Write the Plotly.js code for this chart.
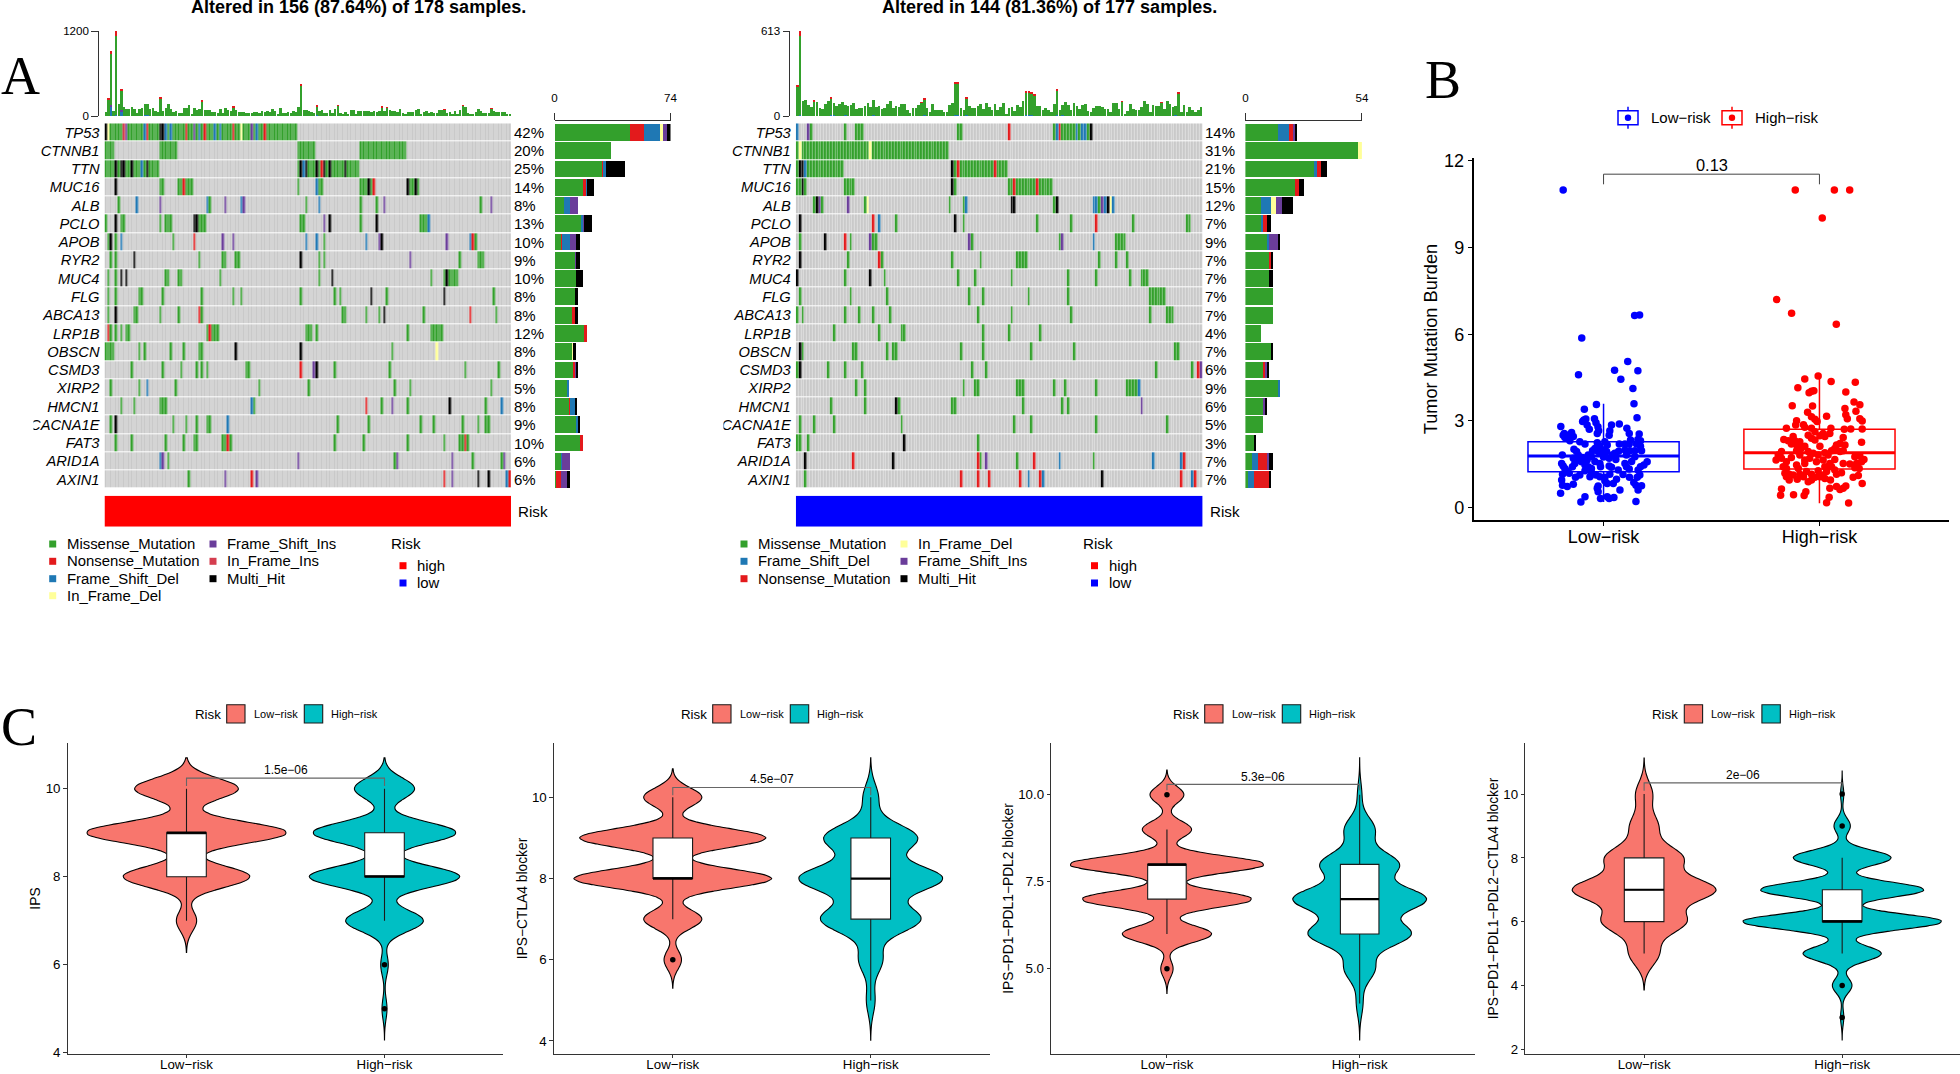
<!DOCTYPE html>
<html><head><meta charset="utf-8">
<script src="https://cdn.plot.ly/plotly-3.0.1.min.js"></script>
<style>html,body{margin:0;padding:0;background:#fff}#g{width:1960px;height:1074px}</style>
</head><body><div id="g"></div>
<script>
const genes=["TP53","CTNNB1","TTN","MUC16","ALB","PCLO","APOB","RYR2","MUC4","FLG","ABCA13","LRP1B","OBSCN","CSMD3","XIRP2","HMCN1","CACNA1E","FAT3","ARID1A","AXIN1"];
const pctL=[42,20,25,14,8,13,10,9,10,8,8,12,8,8,5,8,9,10,6,6];
const pctR=[14,31,21,15,12,7,9,7,7,7,7,4,7,6,9,6,5,3,7,7];
const nL=156, nR=144;
const typeColors={G:"#33A02C",R:"#E31A1C",B:"#1F78B4",Y:"#FFFF99",P:"#6A3D9A",J:"#D53E4F",K:"#000000"};
const typeNames={G:"Missense_Mutation",R:"Nonsense_Mutation",B:"Frame_Shift_Del",Y:"In_Frame_Del",P:"Frame_Shift_Ins",J:"In_Frame_Ins",K:"Multi_Hit"};

// oncoplot cells: [sample,type] or [from,to,type]; later entries overwrite earlier ones
const L_TP53=[[0,73,"G"],[0,"K"],[1,"Y"],[7,"J"],[8,"P"],[15,"B"],[16,"R"],[21,22,"K"],[23,"B"],[25,"B"],[31,"R"],[34,"P"],[36,"B"],[38,"R"],[42,"B"],[44,"B"],[49,"R"],[52,"Y"],[56,"P"],[58,"B"],[61,"R"]];
const L_CTNNB1=[[0,3,"G"],[21,27,"G"],[74,80,"G"],[98,115,"G"]];
const L_TTN=[[0,20,"G"],[4,"K"],[6,7,"K"],[10,"K"],[14,"B"],[16,"K"],[74,97,"G"],[75,"K"],[76,"B"],[77,"K"],[81,"K"],[83,"R"],[84,"K"],[86,"K"],[92,"K"]];
const L_MUC16=[[4,"K"],[21,22,"G"],[28,33,"G"],[30,"R"],[74,"G"],[81,"B"],[82,83,"G"],[98,103,"G"],[101,"K"],[103,"R"],[116,"K"],[117,120,"G"],[119,"K"]];
const L_ALB=[[5,"G"],[12,"B"],[21,"P"],[39,"B"],[40,"G"],[46,"P"],[52,"B"],[53,"P"],[77,"G"],[82,"B"],[98,"G"],[104,"G"],[107,"P"],[144,"G"],[148,"P"]];
const L_PCLO=[[0,"G"],[4,"K"],[6,7,"G"],[21,"G"],[23,25,"G"],[34,35,"K"],[36,38,"G"],[75,76,"G"],[84,"P"],[86,"K"],[98,"G"],[104,"K"],[121,123,"G"],[124,"B"]];
const L_APOB=[[1,"G"],[2,"K"],[4,"G"],[6,"B"],[26,"G"],[34,"R"],[45,"P"],[49,"P"],[77,"B"],[81,"B"],[84,"G"],[100,"B"],[105,"P"],[106,"K"],[131,"P"],[140,"B"],[141,"R"],[142,"G"]];
const L_RYR2=[[2,"G"],[4,"G"],[11,"K"],[36,"G"],[45,46,"G"],[50,51,"G"],[75,"K"],[82,"G"],[84,"G"],[117,"P"],[136,"G"],[143,145,"G"]];
const L_MUC4=[[1,"G"],[4,"G"],[6,"K"],[8,"K"],[23,24,"G"],[28,29,"G"],[44,"G"],[82,"G"],[87,"K"],[125,"G"],[130,"G"],[131,"K"],[132,135,"G"]];
const L_FLG=[[1,"G"],[4,"G"],[13,14,"G"],[22,"G"],[37,"G"],[49,"G"],[52,"G"],[75,"G"],[88,"G"],[90,"G"],[102,"K"],[108,"G"],[130,"K"],[149,"G"]];
const L_ABCA13=[[1,"G"],[4,"K"],[11,12,"G"],[21,"G"],[28,"G"],[36,"R"],[37,"G"],[91,92,"G"],[100,"G"],[105,"G"],[107,"K"],[122,"G"],[140,"R"],[150,"G"]];
const L_LRP1B=[[1,"R"],[2,"G"],[4,"G"],[6,"G"],[8,9,"G"],[39,"G"],[40,"R"],[41,43,"G"],[77,79,"G"],[81,"G"],[116,"G"],[125,129,"G"]];
const L_OBSCN=[[0,3,"G"],[13,"G"],[15,"G"],[25,"G"],[30,"G"],[36,37,"G"],[50,"K"],[75,"K"],[110,"G"],[127,"Y"]];
const L_CSMD3=[[10,"G"],[22,"G"],[29,"G"],[35,"G"],[37,"G"],[39,"G"],[54,55,"G"],[75,"R"],[80,"P"],[81,"K"],[88,"G"],[109,"G"],[138,"G"],[151,"G"]];
const L_XIRP2=[[2,"G"],[13,"G"],[16,"B"],[27,"G"],[59,"G"],[78,"G"],[111,"G"],[117,"G"],[148,"G"]];
const L_HMCN1=[[6,"G"],[11,"G"],[21,23,"G"],[56,"B"],[57,"G"],[100,"R"],[106,"G"],[110,"P"],[116,"G"],[132,"K"],[146,"G"],[152,"B"]];
const L_CACNA1E=[[2,"G"],[4,"K"],[26,"G"],[31,"G"],[35,"G"],[39,40,"G"],[47,"B"],[89,"G"],[101,"G"],[121,"G"],[126,"G"],[137,"G"],[143,"G"],[146,147,"G"]];
const L_FAT3=[[4,"G"],[10,"G"],[23,"G"],[30,"G"],[34,35,"G"],[45,46,"G"],[47,"R"],[48,"G"],[88,"G"],[99,"G"],[116,"G"],[130,"G"],[136,137,"G"],[138,"R"],[139,"G"]];
const L_ARID1A=[[21,"B"],[22,"P"],[24,"G"],[74,"P"],[111,"G"],[112,"P"],[133,"P"],[141,"G"],[152,"G"],[153,"P"]];
const L_AXIN1=[[32,"G"],[46,"P"],[56,"R"],[58,"P"],[130,"R"],[133,"P"],[143,"K"],[147,"K"],[154,"B"],[155,"R"]];
const rowsL=[L_TP53,L_CTNNB1,L_TTN,L_MUC16,L_ALB,L_PCLO,L_APOB,L_RYR2,L_MUC4,L_FLG,L_ABCA13,L_LRP1B,L_OBSCN,L_CSMD3,L_XIRP2,L_HMCN1,L_CACNA1E,L_FAT3,L_ARID1A,L_AXIN1];

const R_TP53=[[0,"B"],[4,"P"],[5,"G"],[17,"G"],[21,23,"G"],[57,58,"G"],[75,"R"],[91,"G"],[92,"B"],[93,"R"],[94,98,"G"],[99,"B"],[100,"G"],[101,102,"B"],[103,"G"],[104,"K"]];
const R_CTNNB1=[[0,53,"G"],[1,"Y"],[26,"Y"]];
const R_TTN=[[0,"G"],[1,2,"K"],[3,"B"],[4,16,"G"],[55,"K"],[56,"G"],[57,"R"],[58,74,"G"],[70,"R"]];
const R_MUC16=[[0,"G"],[1,"G"],[2,"K"],[3,"G"],[17,20,"G"],[55,"K"],[56,"G"],[75,84,"G"],[77,"R"],[85,"R"],[86,90,"G"]];
const R_ALB=[[6,"G"],[7,"K"],[8,"P"],[9,"G"],[18,"P"],[24,"G"],[25,"Y"],[54,"G"],[59,"G"],[60,"B"],[76,77,"K"],[91,"G"],[92,"K"],[105,106,"B"],[107,"G"],[108,"P"],[109,"B"],[110,"K"],[111,"Y"],[112,"B"]];
const R_PCLO=[[1,"K"],[27,"R"],[29,"B"],[35,"G"],[56,"K"],[59,"G"],[85,"G"],[97,"G"],[106,"R"],[119,"G"],[138,139,"G"]];
const R_APOB=[[1,"G"],[10,"K"],[17,"R"],[19,"G"],[26,"P"],[27,28,"G"],[61,"P"],[62,"G"],[93,"G"],[94,"P"],[105,"B"],[113,116,"G"]];
const R_RYR2=[[1,"K"],[18,"G"],[29,"R"],[30,"G"],[55,"G"],[65,"G"],[78,81,"G"],[107,"G"],[113,"G"],[117,"G"]];
const R_MUC4=[[0,"K"],[17,"G"],[26,"K"],[31,"G"],[57,"G"],[63,"G"],[76,"G"],[96,"G"],[106,"G"],[118,"G"],[122,124,"G"]];
const R_FLG=[[1,"G"],[19,"G"],[32,"G"],[61,"G"],[66,"G"],[82,"G"],[96,"G"],[125,130,"G"]];
const R_ABCA13=[[0,"G"],[2,"G"],[17,"G"],[22,"G"],[27,"G"],[33,"G"],[64,"G"],[76,"G"],[97,"G"],[125,"G"],[131,133,"G"]];
const R_LRP1B=[[13,"G"],[29,"G"],[37,38,"G"],[66,"G"],[75,"G"],[86,"G"]];
const R_OBSCN=[[1,"K"],[2,"G"],[20,21,"G"],[32,"G"],[34,35,"G"],[58,"G"],[66,"G"],[83,"G"],[98,"G"],[134,135,"G"]];
const R_CSMD3=[[0,"G"],[1,"K"],[11,"G"],[17,"G"],[23,"G"],[62,"G"],[67,"G"],[127,"G"],[140,"G"],[142,"R"],[143,"P"]];
const R_XIRP2=[[21,"G"],[24,"G"],[59,"G"],[63,64,"G"],[78,80,"G"],[91,"G"],[95,"G"],[106,"G"],[117,120,"G"],[121,"B"]];
const R_HMCN1=[[12,"G"],[24,"G"],[35,"K"],[36,"G"],[55,56,"G"],[80,"G"],[94,"G"],[96,"G"],[122,"P"]];
const R_CACNA1E=[[1,"G"],[6,"G"],[13,"G"],[37,"G"],[77,"G"],[83,"G"],[106,"G"],[131,"G"]];
const R_FAT3=[[0,1,"G"],[4,"G"],[38,"K"],[64,"G"]];
const R_ARID1A=[[3,"K"],[20,"R"],[34,"K"],[64,"R"],[65,"G"],[67,"P"],[78,"G"],[84,"R"],[93,"B"],[105,"G"],[126,"B"],[136,"B"],[137,"R"]];
const R_AXIN1=[[3,"G"],[58,"R"],[64,"R"],[68,"R"],[79,"R"],[82,"B"],[86,"R"],[87,"B"],[108,"K"],[136,"R"],[140,"B"],[141,"R"]];
const rowsR=[R_TP53,R_CTNNB1,R_TTN,R_MUC16,R_ALB,R_PCLO,R_APOB,R_RYR2,R_MUC4,R_FLG,R_ABCA13,R_LRP1B,R_OBSCN,R_CSMD3,R_XIRP2,R_HMCN1,R_CACNA1E,R_FAT3,R_ARID1A,R_AXIN1];

// top bars: mutations per sample
const topL_total=[56,250,920,70,1200,165,375,130,95,105,130,105,47,100,118,165,165,95,108,70,52,268,70,108,170,95,52,70,42,47,108,108,150,33,108,85,99,230,85,85,85,56,52,47,103,42,113,85,70,132,85,56,52,52,42,42,47,56,52,47,66,61,75,52,94,66,33,108,47,47,56,42,70,56,122,450,90,90,70,52,47,150,70,85,47,42,85,40,94,150,42,33,52,33,80,80,33,75,66,75,66,70,56,66,61,70,132,66,122,80,66,70,52,99,42,15,56,56,56,85,94,33,52,66,42,56,47,47,85,89,94,47,52,28,66,23,85,150,127,47,23,33,52,103,66,47,42,42,108,70,61,52,61,56,33,33];
const topL_red=[[1,20],[2,45],[4,70],[6,15],[21,20],[37,25],[49,8],[75,25],[81,12],[89,6],[106,8],[108,8],[137,8],[148,6],[130,6]];
const topL_blue=[[2,130],[4,12],[6,65],[15,10],[16,10],[75,6],[81,8]];
const topL_purple=[[2,30],[6,15]];
const topR_total=[218,613,108,113,79,65,113,103,55,50,84,108,134,91,72,84,98,79,72,79,91,50,58,58,70,96,67,113,62,74,53,55,89,106,55,72,65,84,84,43,22,55,55,79,101,127,60,31,86,43,41,41,31,26,82,94,247,247,55,41,134,74,60,60,72,84,50,96,62,43,84,46,67,96,12,58,67,36,79,67,110,178,178,168,154,72,72,41,55,41,26,86,190,43,79,101,79,43,91,70,50,82,84,36,29,58,74,74,67,48,48,31,96,96,48,106,12,36,84,50,41,46,67,106,86,26,77,74,72,98,50,106,86,62,72,170,26,79,31,62,46,26,43,67];
const topR_red=[[0,8],[1,35],[6,10],[12,5],[45,8],[44,4],[56,15],[57,15],[60,5],[81,8],[82,8],[83,8],[84,8],[92,8],[115,5],[129,4],[135,5]];
const topR_blue=[[1,8],[12,7],[13,7],[17,7],[27,7],[45,7],[56,7],[57,7],[60,7],[81,7],[82,7],[83,7],[92,8],[94,6],[134,7]];

// side bars: samples per gene and type
const sideL_G=[48,36,30,18,6,17,4,13,14,13,11,19,11,12,8,9,14,16,4,1];
const sideL_R=[9,0,1,2,0,0,1,0,0,0,2,2,0,1,0,1,0,2,0,3];
const sideL_B=[10,0,2,1,4,1,5,0,0,0,0,0,0,0,1,3,1,0,1,0];
const sideL_Y=[2,0,0,0,0,0,0,0,0,0,0,0,1,0,0,0,0,0,0,0];
const sideL_P=[3,0,0,0,5,1,4,1,0,0,0,0,0,1,0,0,0,0,5,4];
const sideL_K=[2,0,12,4,0,5,2,2,4,2,2,0,2,1,0,1,1,0,0,2];
const sideR_G=[15,52,32,23,7,7,10,11,11,13,13,7,12,8,15,8,8,4,3,1];
const sideR_B=[5,0,1,0,5,1,1,0,0,0,0,0,0,0,1,0,0,0,3,3];
const sideR_R=[2,0,2,2,0,2,0,1,0,0,0,0,0,1,0,0,0,0,4,7];
const sideR_Y=[0,2,0,0,2,0,0,0,0,0,0,0,0,0,0,0,0,0,0,0];
const sideR_P=[1,0,0,0,3,0,4,0,0,0,0,0,0,1,0,1,0,0,1,0];
const sideR_K=[1,0,3,2,5,2,1,1,2,0,0,0,1,1,0,1,0,1,2,1];

// panel B: [jitter offset, TMB]
const tmbLow=[[-.187,10.99],[.144,6.65],[.167,6.67],[-.101,5.87],[.112,5.06],[-.116,4.6],[.051,4.76],[.159,4.74],[.08,4.44],[.136,4.12],[.141,3.6],[-.033,3.57],[-.089,3.41],[.155,3.11],[-.198,2.81],[-.187,2.51],[-.179,2.43],[-.168,2.51],[-.148,2.6],[-.159,2.4],[-.14,2.46],[-.182,2.57],[-.156,2.32],[-.091,3.03],[-.082,3.07],[-.097,2.98],[-.076,2.86],[-.066,2.71],[-.042,3.08],[-.035,2.94],[-.026,2.8],[-.023,2.66],[.037,2.86],[.073,2.9],[.029,2.66],[.026,2.51],[.108,2.75],[.119,2.57],[.165,2.55],[.159,2.36],[.171,2.32],[.153,2.2],[.171,2.13],[.145,1.97],[.176,1.97],[.125,2.34],[-.086,2.2],[-.11,2.28],[-.137,2.02],[-.125,1.94],[-.191,1.82],[-.029,2.25],[.006,2.28],[.017,2.17],[-.017,2.13],[-.04,2.05],[0,2],[-.025,1.94],[.014,1.94],[-.051,1.97],[-.009,1.88],[.052,1.88],[.073,2.2],[.099,2.2],[.119,2.2],[.099,2],[.122,1.97],[.145,1.76],[.106,1.82],[.057,1.67],[.026,1.71],[-.14,1.71],[-.117,1.82],[-.097,1.74],[-.071,1.82],[-.056,1.76],[-.076,1.65],[-.102,1.59],[-.133,1.53],[-.144,1.42],[-.194,1.53],[-.187,1.44],[-.179,1.36],[-.19,1.16],[-.159,1.19],[-.171,1.28],[-.071,1.42],[-.056,1.36],[-.086,1.28],[-.11,1.13],[-.056,1.21],[-.035,1.13],[-.017,1.07],[.006,1.05],[.029,1.16],[-.014,1.42],[.026,1.44],[.037,1.4],[.068,1.3],[.106,1.42],[.119,1.34],[.099,1.53],[.202,1.59],[.187,1.48],[.171,1.42],[.16,1.3],[.168,1.13],[.156,1.05],[-.017,1.53],[-.086,1.48],[-.117,1.65],[-.194,.96],[-.19,.78],[-.168,.73],[-.14,.81],[-.199,.5],[-.086,.38],[-.105,.2],[-.025,.75],[-.025,.55],[-.014,.32],[.017,.38],[.026,.32],[.048,.35],[.076,.61],[.06,.98],[.045,.84],[.017,.84],[.006,.93],[.14,.87],[.15,.78],[.176,.76],[.16,.61],[.15,.21],[-.063,1.07],[-.029,.67],[-.029,2.57],[.04,1.82],[.07,1.95],[.13,1.6],[-.04,1.6],[0,1.75],[.09,1.15],[.12,1.05],[-.13,1.05]];
const tmbHigh=[[-.112,10.99],[.069,10.99],[.14,10.99],[.013,10.02],[-.198,7.2],[-.129,6.73],[.078,6.35],[-.006,4.56],[-.068,4.45],[.054,4.37],[.166,4.34],[-.1,4.15],[-.026,4.05],[-.048,3.98],[-.037,4.03],[.122,4],[.16,3.66],[.187,3.56],[-.126,3.53],[-.032,3.52],[.118,3.43],[.169,3.34],[-.055,3.3],[.122,3.22],[-.037,3.15],[.033,3.16],[.129,3.08],[-.021,3.06],[.187,3.08],[.198,3],[-.106,3.01],[-.011,2.98],[-.11,2.86],[-.074,2.87],[-.037,2.75],[-.153,2.75],[.053,2.75],[.115,2.71],[.145,2.72],[.198,2.72],[-.021,2.63],[.017,2.57],[.002,2.49],[.048,2.57],[-.068,2.78],[-.052,2.51],[.025,2.46],[-.037,2.4],[-.021,2.34],[.11,2.43],[.195,2.26],[-.122,2.46],[-.165,2.36],[-.145,2.32],[-.114,2.32],[-.091,2.28],[-.106,2.17],[-.13,2.2],[-.068,2.13],[-.086,2.05],[-.106,1.97],[.095,2.22],[.079,2.17],[.118,2.17],[.071,2.05],[.056,1.97],[.002,2.13],[.11,1.97],[.095,1.94],[-.052,1.94],[-.029,1.88],[-.006,1.82],[.025,1.9],[.04,1.82],[-.176,1.94],[-.191,1.82],[-.201,1.65],[-.176,1.71],[-.153,1.59],[-.13,1.74],[-.091,1.82],[-.068,1.65],[-.045,1.71],[-.068,1.53],[-.014,1.59],[.017,1.65],[.048,1.53],[.071,1.67],[.11,1.53],[.141,1.51],[.164,1.76],[.187,1.79],[.206,1.67],[.172,1.53],[.195,1.59],[.164,1.38],[.184,1.36],[-.168,1.42],[-.153,1.36],[-.106,1.48],[-.098,1.36],[-.16,1.19],[-.14,1.16],[-.122,1.13],[-.091,1.16],[-.06,1.25],[-.037,1.16],[-.006,1.28],[.025,1.42],[.01,1.13],[.056,1.42],[.071,1.3],[.033,1.25],[.079,1.16],[.102,1.21],[-.153,1.07],[-.14,.96],[-.074,1.07],[-.037,.96],[-.021,1.05],[.002,1.07],[.025,1.01],[.051,.96],[.156,1.05],[.18,1.11],[.198,.84],[-.103,.98],[-.052,.9],[-.176,.65],[-.18,.43],[-.12,.45],[-.063,.55],[-.071,.42],[.048,.67],[.079,.73],[.095,.63],[.11,.67],[.122,.75],[.045,.36],[.033,.17],[.135,.16]];
const boxLow={q1:1.245,med:1.79,q3:2.28,lo:0.2,hi:3.6};
const boxHigh={q1:1.34,med:1.9,q3:2.71,lo:0.15,hi:4.47};

// panel C: integer score counts behind each violin
const c1LowVals=[7,8,9,10],       c1LowCounts=[8,50,79,41];
const c1HighVals=[5,6,7,8,9,10],  c1HighCounts=[2,3,31,60,57,24];
const c2LowVals=[6,7,8,9,10],     c2LowCounts=[6,20,68,64,20];
const c2HighVals=[5,6,7,8,9,10],  c2HighCounts=[4,11,46,66,43,7];
const c3LowVals=[5,6,7,8,9,10],   c3LowCounts=[4,29,55,63,16,11];
const c3HighVals=[4,5,6,7,8,9,10],c3HighCounts=[3,14,47,61,36,14,2];
const c4LowVals=[5,6,7,8,9,10],   c4LowCounts=[14,39,67,36,13,8];
const c4HighVals=[3,4,5,6,7,8,9,10],c4HighCounts=[1,6,24,61,50,30,5,1];

const c1Box=[{q1:8,med:9,q3:9,lo:7,hi:10},{q1:8,med:8,q3:9,lo:7,hi:10}];
const c2Box=[{q1:8,med:8,q3:9,lo:7,hi:10},{q1:7,med:8,q3:9,lo:5,hi:10}];
const c3Box=[{q1:7,med:8,q3:8,lo:6,hi:9},{q1:6,med:7,q3:8,lo:4,hi:10}];
const c4Box=[{q1:6,med:7,q3:8,lo:5,hi:10},{q1:6,med:6,q3:7,lo:5,hi:8}];
const c1Out=[[],[6,5]], c2Out=[[6],[]], c3Out=[[10,5],[]], c4Out=[[],[10,9,4,3]];
const riskLabels=["Low\u2212risk","High\u2212risk"];

const W=1960,H=1074,FONT="Liberation Sans, Arial, sans-serif";
const px=x=>x/W, py=y=>1-y/H;
const data=[],shapes=[],annotations=[],layout={};
let axN=0;
function axes(xb,yb,xo,yo){axN++;const s=axN===1?"":axN;
  layout["xaxis"+s]=Object.assign({domain:[px(xb[0]),px(xb[1])],anchor:"y"+s,showgrid:false,zeroline:false,visible:false},xo||{});
  layout["yaxis"+s]=Object.assign({domain:[py(yb[1]),py(yb[0])],anchor:"x"+s,showgrid:false,zeroline:false,visible:false},yo||{});
  return {x:"x"+s,y:"y"+s};}
function ann(x,y,text,size,o){annotations.push(Object.assign({x:px(x),y:py(y),xref:"paper",yref:"paper",text,showarrow:false,borderpad:0,xanchor:"left",yanchor:"middle",font:{family:FONT,size,color:"#000"}},o||{}));}
function rect(x0,y0,x1,y1,fill,line,lw,layer){shapes.push({type:"rect",xref:"paper",yref:"paper",x0:px(x0),x1:px(x1),y0:py(y0),y1:py(y1),fillcolor:fill,line:{color:line||fill,width:line?(lw||1):0},layer:layer||"above"});}
function seg(x0,y0,x1,y1,c,w){shapes.push({type:"line",xref:"paper",yref:"paper",x0:px(x0),x1:px(x1),y0:py(y0),y1:py(y1),line:{color:c,width:w||1}});}

const order=["G","R","B","Y","P","J","K"];
const cs=[];const grey="#C9C9C9";
["#000",...order].forEach((k,i)=>{const c=i===0?grey:typeColors[k];cs.push([i/8,c],[(i+1)/8,c]);});
function matrix(rows,n){return rows.map(r=>{const a=new Array(n).fill(0);r.forEach(e=>{const from=e[0],to=e.length===3?e[1]:e[0],t=e[e.length-1];for(let i=from;i<=to;i++)a[i]=order.indexOf(t)+1;});return a;}).map(a=>a.map(v=>v+0.5));}
function sparse(list,n){const a=new Array(n).fill(0);list.forEach(([i,v])=>a[i]=v);return a;}

function oncoplot(o){
  const hx=o.hx, hy=[123.3,488.7], n=o.n, axisFont={family:FONT,size:11.6,color:"#000"};
  // matrix
  const a=axes(hx,hy,{range:[-.5,n-.5]},{visible:true,range:[19.5,-.5],tickmode:"array",tickvals:genes.map((_,i)=>i),ticktext:genes,ticks:"",showline:false,ticklabelstandoff:4,tickfont:{family:FONT,size:14.7,style:"italic",color:"#000"}});
  data.push({type:"heatmap",xaxis:a.x,yaxis:a.y,z:matrix(o.rows,n),zmin:0,zmax:8,colorscale:cs,showscale:false,xgap:0.4,ygap:1,hoverinfo:"skip"});
  o.pct.forEach((p,i)=>annotations.push({xref:"paper",yref:a.y,x:px(hx[1]+1.5),y:i,text:p+"%",showarrow:false,xanchor:"left",yanchor:"middle",borderpad:0,font:{family:FONT,size:15,color:"#000"}}));
  // top bars
  const b=axes(hx,[31,116],{range:[-.5,n-.5]},{visible:true,range:[0,o.topMax],anchor:"free",position:px(hx[0]-6.7),tickmode:"array",tickvals:[0,o.topMax],ticks:"outside",ticklen:6.5,tickcolor:"#333",showline:true,linecolor:"#333",linewidth:1,tickfont:axisFont});
  const blue=sparse(o.topBlue,n),purple=sparse(o.topPurple,n),red=sparse(o.topRed,n);
  const green=o.topTotal.map((t,i)=>t-blue[i]-purple[i]-red[i]);
  [[blue,"B"],[purple,"P"],[green,"G"],[red,"R"]].forEach(([v,k])=>data.push({type:"bar",xaxis:b.x,yaxis:b.y,x:v.map((_,i)=>i),y:v,marker:{color:typeColors[k],line:{width:0}},hoverinfo:"skip"}));
  // side bars
  const c=axes(o.sx,hy,{visible:true,range:[0,o.sideMax],side:"top",anchor:"free",position:py(119.5),tickmode:"array",tickvals:[0,o.sideMax],ticks:"outside",ticklen:7,tickcolor:"#333",showline:true,linecolor:"#333",linewidth:1,ticklabelstandoff:6,tickfont:axisFont},{range:[19.5,-.5]});
  o.side.forEach(([v,k])=>data.push({type:"bar",orientation:"h",xaxis:c.x,yaxis:c.y,x:v,y:genes.map((_,i)=>i),marker:{color:typeColors[k],line:{width:0}},hoverinfo:"skip"}));
  // risk strip
  const d=axes(hx,[495.7,526.7],{range:[-.5,n-.5]},{range:[-.5,.5]});
  data.push({type:"heatmap",xaxis:d.x,yaxis:d.y,z:[new Array(n).fill(1)],zmin:0,zmax:1,colorscale:[[0,o.risk],[1,o.risk]],showscale:false,hoverinfo:"skip"});
  ann(hx[1]+6,511,"Risk",15.2);
  ann(o.titleX,7.5,"<b>"+o.title+"</b>",18,{xanchor:"center"});
  // legend
  const ly=[544,561.3,578.7,595.7];
  o.leg1.forEach((k,i)=>{rect(o.lx1-3.5,ly[i]-3.5,o.lx1+3.5,ly[i]+3.5,typeColors[k]);ann(o.lx1+13.2,ly[i],typeNames[k],14.9);});
  o.leg2.forEach((k,i)=>{rect(o.lx2-3.5,ly[i]-3.5,o.lx2+3.5,ly[i]+3.5,typeColors[k]);ann(o.lx2+13,ly[i],typeNames[k],14.9);});
  ann(o.lx3-12.7,543,"Risk",15.2);
  rect(o.lx3-3.5,562.2,o.lx3+3.5,569.2,"#ff0000");ann(o.lx3+13,565.7,"high",14.9);
  rect(o.lx3-3.5,579.5,o.lx3+3.5,586.5,"#0000ff");ann(o.lx3+13,583,"low",14.9);
  // the clipped gene label
  rect(o.clip-40,415.6,o.clip,433.9,"#fff");
}
oncoplot({hx:[104.5,511],sx:[554.5,670.5],titleX:358.5,n:nL,rows:rowsL,pct:pctL,topTotal:topL_total,topBlue:topL_blue,topPurple:topL_purple,topRed:topL_red,topMax:1200,sideMax:74,
  side:[[sideL_G,"G"],[sideL_R,"R"],[sideL_B,"B"],[sideL_Y,"Y"],[sideL_P,"P"],[sideL_K,"K"]],risk:"#ff0000",title:"Altered in 156 (87.64%) of 178 samples.",
  leg1:["G","R","B","Y"],leg2:["P","J","K"],lx1:52.7,lx2:213,lx3:403,clip:33.5});
oncoplot({hx:[795.8,1202.5],sx:[1245.4,1361.9],titleX:1049,n:nR,rows:rowsR,pct:pctR,topTotal:topR_total,topBlue:topR_blue,topPurple:[],topRed:topR_red,topMax:613,sideMax:54,
  side:[[sideR_G,"G"],[sideR_B,"B"],[sideR_R,"R"],[sideR_Y,"Y"],[sideR_P,"P"],[sideR_K,"K"]],risk:"#0000ff",title:"Altered in 144 (81.36%) of 177 samples.",
  leg1:["G","B","R"],leg2:["Y","P","K"],lx1:744,lx2:904,lx3:1094.5,clip:723.5});

const serif={family:"Liberation Serif, serif",size:54,color:"#000"};
ann(0,76,"A",54,{font:serif});
ann(1424,80,"B",54,{font:serif});
ann(0,727,"C",54,{font:serif});

// panel B
(function(){
  const t17={family:FONT,size:18,color:"#000"};
  const a=axes([1474,1949],[158,520],
    {visible:true,range:[.4,2.6],tickmode:"array",tickvals:[1,2],ticktext:riskLabels,ticks:"outside",ticklen:4.5,tickcolor:"#000",showline:true,linecolor:"#000",linewidth:1.5,ticklabelstandoff:-5,tickfont:t17},
    {visible:true,range:[-.426,12.1],tickmode:"array",tickvals:[0,3,6,9,12],ticks:"outside",ticklen:4.5,tickcolor:"#000",showline:true,linecolor:"#000",linewidth:1.5,tickfont:t17,title:{text:"Tumor Mutation Burden",font:{family:FONT,size:18.2,color:"#000"},standoff:2}});
  [[boxLow,1,"#0000ff",tmbLow],[boxHigh,2,"#ff0000",tmbHigh]].forEach(([b,x,c,pts])=>{
    data.push({type:"box",xaxis:a.x,yaxis:a.y,x:[x],q1:[b.q1],median:[b.med],q3:[b.q3],lowerfence:[b.lo],upperfence:[b.hi],width:.7,whiskerwidth:0,boxpoints:false,fillcolor:"rgba(0,0,0,0)",line:{color:c,width:1.5},hoverinfo:"skip"});
    data.push({type:"scatter",mode:"lines",xaxis:a.x,yaxis:a.y,x:[x-.35,x+.35],y:[b.med,b.med],line:{color:c,width:3},hoverinfo:"skip"});
    data.push({type:"scatter",mode:"markers",xaxis:a.x,yaxis:a.y,x:pts.map(p=>x+p[0]),y:pts.map(p=>p[1]),marker:{color:c,size:7.5},hoverinfo:"skip"});
  });
  data.push({type:"scatter",mode:"lines",xaxis:a.x,yaxis:a.y,x:[1,1,2,2],y:[11.19,11.54,11.54,11.19],line:{color:"#444",width:1},hoverinfo:"skip"});
  ann(1711.6,165,"0.13",16.4,{xanchor:"center"});
  [[1628,"#0000ff",riskLabels[0],1650],[1732,"#ff0000",riskLabels[1],1754.3]].forEach(([cx,c,t,tx])=>{
    seg(cx,106.7,cx,128.7,c,1.5);rect(cx-10,110.7,cx+10,124.7,"#fff",c,1.5);
    shapes.push({type:"circle",xref:"paper",yref:"paper",x0:px(cx-3.2),x1:px(cx+3.2),y0:py(114.5),y1:py(120.9),fillcolor:c,line:{width:0},layer:"above"});
    ann(tx,118,t,15);
  });
})();

// panel C
function expand(vals,counts){const s=[];vals.forEach((v,i)=>{for(let k=0;k<counts[i];k++)s.push(v);});return s;}
function violins(o){
  const f={family:FONT,size:13.3,color:"#000"};
  const a=axes(o.xb,[743.3,1053.7],
    {visible:true,range:o.xr,tickmode:"array",tickvals:[1,2],ticktext:riskLabels,ticks:"outside",ticklen:3.5,tickcolor:"#333",showline:true,linecolor:"#333",linewidth:1.2,ticklabelstandoff:-5,tickfont:f},
    {visible:true,range:o.yr,tickmode:"array",tickvals:o.ticks,ticktext:o.tickText||o.ticks.map(String),ticks:"outside",ticklen:3.5,tickcolor:"#333",showline:true,linecolor:"#333",linewidth:1.2,tickfont:f,title:{text:o.title,font:{family:FONT,size:13.8,color:"#000"},standoff:o.standoff}});
  o.v.forEach((v,i)=>{
    const x=i+1,s=expand(v.vals,v.counts),c=i?"#00BFC4":"#F8766D",b=o.box[i];
    data.push({type:"violin",xaxis:a.x,yaxis:a.y,x0:x,y:s,bandwidth:v.bw,width:v.w,scalemode:"width",spanmode:"manual",span:v.span,points:false,box:{visible:false},meanline:{visible:false},fillcolor:c,line:{color:"#000",width:1.1},hoverinfo:"skip"});
    data.push({type:"box",xaxis:a.x,yaxis:a.y,x:[x],q1:[b.q1],median:[b.med],q3:[b.q3],lowerfence:[b.lo],upperfence:[b.hi],width:.2,whiskerwidth:0,boxpoints:false,fillcolor:"#fff",line:{color:"#1a1a1a",width:1.1},hoverinfo:"skip"});
    data.push({type:"scatter",mode:"lines",xaxis:a.x,yaxis:a.y,x:[x-.1,x+.1],y:[b.med,b.med],line:{color:"#000",width:2.2},hoverinfo:"skip"});
    if(o.out[i].length)data.push({type:"scatter",mode:"markers",xaxis:a.x,yaxis:a.y,x:o.out[i].map(()=>x),y:o.out[i],marker:{color:"#000",size:5.5},hoverinfo:"skip"});
  });
  data.push({type:"scatter",mode:"lines",xaxis:a.x,yaxis:a.y,x:[1,1,2,2],y:[o.br[0],o.br[1],o.br[1],o.br[0]],line:{color:"#666",width:1.1},hoverinfo:"skip"});
  annotations.push({xref:a.x,yref:"paper",x:1.5,y:py(o.labY),text:o.p,showarrow:false,xanchor:"center",yanchor:"middle",borderpad:0,font:{family:FONT,size:12,color:"#000"}});
  const L=o.leg;
  ann(L,714,"Risk",13.3);
  rect(L+33,704.7,L+51.3,723,"#F8766D","#1a1a1a",1.1);ann(L+59,714,riskLabels[0],11);
  rect(L+110.6,704.7,L+129,723,"#00BFC4","#1a1a1a",1.1);ann(L+136.6,714,riskLabels[1],11);
}
violins({xb:[67.7,503.3],xr:[.4,2.6],yr:[3.98,11.03],ticks:[4,6,8,10],title:"IPS",standoff:1,box:c1Box,out:c1Out,br:[10.06,10.24],labY:770,p:"1.5e\u221206",leg:193.7,
 v:[{vals:c1LowVals,counts:c1LowCounts,bw:.24,w:1.0,span:[6.28,10.7]},{vals:c1HighVals,counts:c1HighCounts,bw:.24,w:.76,span:[4.29,10.7]}]});
violins({xb:[554,989.5],xr:[.4,2.6],yr:[3.687,11.33],ticks:[4,6,8,10],title:"IPS\u2212CTLA4 blocker",standoff:1,box:c2Box,out:c2Out,br:[10.05,10.24],labY:779.3,p:"4.5e\u221207",leg:679.7,
 v:[{vals:c2LowVals,counts:c2LowCounts,bw:.233,w:1.0,span:[5.3,10.7]},{vals:c2HighVals,counts:c2HighCounts,bw:.33,w:.724,span:[4.02,10.97]}]});
violins({xb:[1051.3,1475.3],xr:[.4,2.6],yr:[2.557,11.48],ticks:[5,7.5,10],tickText:["5.0","7.5","10.0"],title:"IPS\u2212PD1\u2212PDL1\u2212PDL2 blocker",standoff:1,box:c3Box,out:c3Out,br:[10.13,10.3],labY:776.7,p:"5.3e\u221206",leg:1171.7,
 v:[{vals:c3LowVals,counts:c3LowCounts,bw:.237,w:1.0,span:[4.29,10.71]},{vals:c3HighVals,counts:c3HighCounts,bw:.35,w:.695,span:[2.95,11.06]}]});
violins({xb:[1525.3,1960],xr:[.4,2.595],yr:[1.862,11.59],ticks:[2,4,6,8,10],title:"IPS\u2212PD1\u2212PDL1\u2212PDL2\u2212CTLA4 blocker",standoff:1,box:c4Box,out:c4Out,br:[10.1,10.35],labY:775.3,p:"2e\u221206",leg:1651.3,
 v:[{vals:c4LowVals,counts:c4LowCounts,bw:.377,w:.727,span:[3.86,11.13]},{vals:c4HighVals,counts:c4HighCounts,bw:.24,w:1.0,span:[2.29,10.72]}]});

Object.assign(layout,{width:W,height:H,margin:{l:0,r:0,t:0,b:0},paper_bgcolor:"#fff",plot_bgcolor:"rgba(0,0,0,0)",showlegend:false,barmode:"stack",bargap:.08,boxmode:"overlay",violinmode:"overlay",shapes,annotations,font:{family:FONT}});
Plotly.newPlot("g",data,layout,{displayModeBar:false,responsive:false});
</script></body></html>
